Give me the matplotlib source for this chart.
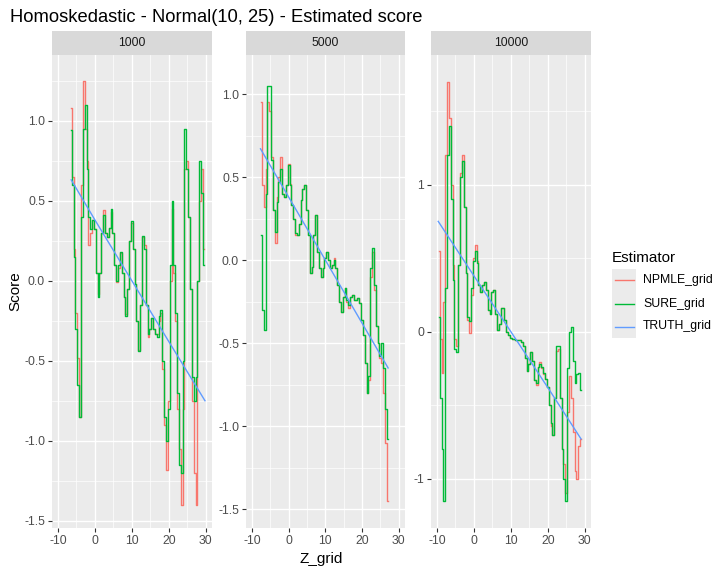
import numpy as np
import matplotlib
matplotlib.use("Agg")
import matplotlib.pyplot as plt
from matplotlib.lines import Line2D
from matplotlib.patches import Rectangle

plt.rcParams['font.family'] = ['Liberation Sans', 'DejaVu Sans']
plt.rcParams['axes.unicode_minus'] = False

W, H = 723, 574

# Estimated score per facet on a 0.5 step Z grid
panels = ['1000', '5000', '10000']
z_start = [-6.5, -7.5, -9.5]

npmle_1000 = [1.08, 0.65, 0.20, -0.20, -0.48, -0.85, 0.60, 1.25, 0.95, 0.75,
              0.22, 0.30, 0.38, 0.32, 0.05, -0.08, 0.05, 0.30, 0.44, 0.30,
              0.27, 0.33, 0.43, 0.30, 0.10, -0.01, 0.08, 0.17, 0.05, -0.10,
              -0.21, -0.05, 0.25, 0.36, 0.20, -0.02, -0.25, -0.43, -0.15, 0.27,
              0.22, -0.15, -0.35, -0.30, -0.23, -0.30, -0.33, -0.33, -0.25, -0.20,
              -0.55, -0.90, -1.18, -0.75, 0.00, 0.45, 0.05, -0.25, -0.80, -1.05,
              -1.40, -0.80, 0.70, 0.75, 0.40, -0.05, -0.75, -1.20, -1.40, 0.00,
              0.50, 0.70, 0.20]
sure_1000 = [0.94, 0.60, 0.15, -0.30, -0.65, -0.85, 0.40, 0.95, 1.10, 0.70,
             0.40, 0.32, 0.38, 0.32, 0.05, -0.10, 0.05, 0.30, 0.41, 0.30,
             0.27, 0.33, 0.45, 0.30, 0.10, 0.00, 0.10, 0.18, 0.05, -0.10,
             -0.22, -0.05, 0.25, 0.37, 0.20, -0.02, -0.25, -0.44, -0.15, 0.28,
             0.20, -0.15, -0.33, -0.30, -0.23, -0.30, -0.33, -0.35, -0.22, -0.18,
             -0.50, -0.85, -1.00, -0.80, 0.10, 0.50, 0.10, -0.20, -0.70, -1.15,
             -1.20, -0.50, 0.95, 0.70, 0.40, -0.05, -0.60, -0.75, -0.60, 0.00,
             0.75, 0.55, 0.10]

npmle_5000 = [0.95, 0.45, 0.32, 0.55, 0.95, 0.90, 0.62, 0.30, 0.10, 0.38,
              0.50, 0.62, 0.40, 0.38, 0.45, 0.58, 0.46, 0.33, 0.25, 0.15,
              0.15, 0.22, 0.36, 0.43, 0.45, 0.30, 0.15, -0.08, -0.04, 0.15,
              0.27, 0.05, -0.05, -0.10, -0.05, 0.01, 0.05, 0.00, -0.05, -0.03,
              0.01, -0.05, -0.15, -0.25, -0.31, -0.22, -0.17, -0.25, -0.29, -0.22,
              -0.21, -0.24, -0.24, -0.23, -0.26, -0.36, -0.45, -0.62, -0.80, -0.72,
              -0.10, 0.05, -0.18, -0.40, -0.50, -0.59, -0.62, -0.80, -1.10, -1.45]
sure_5000 = [0.15, -0.30, -0.42, 0.40, 1.05, 1.05, 0.60, 0.30, 0.17, 0.35,
             0.47, 0.55, 0.40, 0.38, 0.45, 0.57, 0.45, 0.33, 0.25, 0.16,
             0.15, 0.22, 0.36, 0.43, 0.45, 0.30, 0.15, -0.08, -0.04, 0.15,
             0.27, 0.05, -0.05, -0.10, -0.05, 0.01, 0.05, 0.00, -0.05, -0.03,
             0.00, -0.05, -0.15, -0.25, -0.31, -0.22, -0.17, -0.24, -0.27, -0.22,
             -0.21, -0.24, -0.24, -0.23, -0.26, -0.36, -0.45, -0.62, -0.80, -0.70,
             -0.05, 0.07, -0.15, -0.40, -0.50, -0.58, -0.50, -0.65, -0.90, -1.08]

npmle_10000 = [0.55, -0.05, -0.28, 0.20, 1.20, 1.70, 1.45, 1.00, 0.45, -0.05,
               -0.10, 0.45, 1.08, 1.20, 0.85, 0.40, 0.08, -0.01, 0.25, 0.50,
               0.59, 0.48, 0.32, 0.27, 0.32, 0.34, 0.28, 0.15, 0.12, 0.27,
               0.28, 0.12, 0.01, 0.05, 0.16, 0.16, 0.08, 0.00, -0.02, -0.04,
               -0.05, -0.05, -0.06, -0.06, -0.06, -0.07, -0.10, -0.18, -0.27, -0.22,
               -0.14, -0.20, -0.33, -0.36, -0.24, -0.21, -0.25, -0.29, -0.32, -0.38,
               -0.50, -0.64, -0.70, -0.45, -0.13, -0.12, -0.45, -0.80, -0.90, -1.10,
               -0.55, -0.30, -0.45, -0.68, -0.95, -1.00, -0.78, -0.73]
sure_10000 = [0.10, -0.45, -0.80, -1.15, 0.30, 1.20, 1.40, 0.90, 0.35, -0.12,
              -0.14, 0.45, 1.05, 1.16, 0.85, 0.40, 0.10, 0.07, 0.30, 0.48,
              0.55, 0.47, 0.32, 0.27, 0.32, 0.34, 0.28, 0.15, 0.12, 0.27,
              0.28, 0.12, 0.01, 0.05, 0.16, 0.16, 0.08, 0.00, -0.02, -0.04,
              -0.05, -0.05, -0.06, -0.06, -0.06, -0.07, -0.10, -0.18, -0.27, -0.22,
              -0.14, -0.20, -0.33, -0.35, -0.24, -0.22, -0.24, -0.28, -0.32, -0.38,
              -0.50, -0.62, -0.70, -0.45, -0.10, -0.10, -0.45, -0.80, -1.00, -1.15,
              -0.25, 0.00, 0.03, -0.20, -0.35, -0.29, -0.28, -0.40]

# true score, read at a few points
truth_z = [[-6.4, 0, 10, 20, 29.8], [-7.65, 0, 10, 20, 27.1], [-9.64, 0, 10, 20, 29.0]]
truth_v = [[0.63, 0.38, 0.0, -0.38, -0.75], [0.67, 0.38, 0.0, -0.38, -0.65],
           [0.75, 0.38, 0.0, -0.38, -0.73]]

npmle = [npmle_1000, npmle_5000, npmle_10000]
sure = [sure_1000, sure_5000, sure_10000]

ylims = [(-1.545, 1.41), (-1.614, 1.235), (-1.336, 1.882)]
yticks = [[-1.5, -1.0, -0.5, 0.0, 0.5, 1.0], [-1.5, -1.0, -0.5, 0.0, 0.5, 1.0], [-1, 0, 1]]
yminor = [[-1.25, -0.75, -0.25, 0.25, 0.75, 1.25], [-1.25, -0.75, -0.25, 0.25, 0.75],
          [-0.5, 0.5, 1.5]]
ylabfmt = ['%.1f', '%.1f', '%d']
xticks = [-10, 0, 10, 20, 30]
xminor = [-5, 5, 15, 25]

colors = {'NPMLE_grid': '#F8766D', 'SURE_grid': '#00BA38', 'TRUTH_grid': '#619CFF'}

fig = plt.figure(figsize=(W / 100, H / 100), dpi=100)

def fx(px):
    return px / W

def fy(py):
    return 1 - py / H

lefts = [52, 246, 431]
widths = [160, 159, 160]
top, bottom = 55, 528

for i, name in enumerate(panels):
    ax = fig.add_axes([fx(lefts[i]), fy(bottom), widths[i] / W, (bottom - top) / H])
    ax.set_facecolor('#EBEBEB')
    for s in ax.spines.values():
        s.set_visible(False)
    z = z_start[i] + 0.5 * np.arange(len(npmle[i]))
    ax.step(z, npmle[i], where='mid', color=colors['NPMLE_grid'], lw=1.0)
    ax.step(z, sure[i], where='mid', color=colors['SURE_grid'], lw=1.0)
    ax.plot(truth_z[i], truth_v[i], color=colors['TRUTH_grid'], lw=1.0)

    ax.set_xlim(-11.6, 31.7)
    ax.set_ylim(*ylims[i])
    ax.set_xticks(xticks)
    ax.set_xticklabels([str(t) for t in xticks])
    ax.set_xticks(xminor, minor=True)
    ax.set_yticks(yticks[i])
    ax.set_yticklabels([ylabfmt[i] % t for t in yticks[i]])
    ax.set_yticks(yminor[i], minor=True)
    ax.grid(which='major', color='white', lw=1.0)
    ax.grid(which='minor', color='white', lw=0.5)
    ax.set_axisbelow(True)
    ax.tick_params(which='major', length=2.75, width=0.8, color='#333333',
                   labelcolor='#4D4D4D', labelsize=8.8, pad=2.2)
    ax.tick_params(which='minor', length=0)

    sx = fig.add_axes([fx(lefts[i]), fy(top), widths[i] / W, 24 / H])
    sx.set_facecolor('#D9D9D9')
    sx.set_xticks([])
    sx.set_yticks([])
    for s in sx.spines.values():
        s.set_visible(False)
    sx.text(0.5, 0.5, name, ha='center', va='center', fontsize=8.8, color='#1A1A1A',
            transform=sx.transAxes)

fig.text(fx(10), fy(22), 'Homoskedastic - Normal(10, 25) - Estimated score',
         fontsize=13.2, ha='left', va='baseline')
fig.text(fx(15), fy(291.5), 'Score', rotation=90, fontsize=11, ha='center', va='center')
fig.text(fx(321.5), fy(559), 'Z_grid', fontsize=11, ha='center', va='center')

# legend
fig.text(fx(612), fy(261.5), 'Estimator', fontsize=11, ha='left', va='baseline')
key_centers = [280.5, 303.5, 326.5]
for name, cy in zip(colors, key_centers):
    fig.add_artist(Rectangle((fx(612), fy(cy + 11.5)), 24 / W, 23 / H,
                             transform=fig.transFigure, facecolor='#EBEBEB',
                             edgecolor='none'))
    fig.add_artist(Line2D([fx(614.5), fx(633.5)], [fy(cy), fy(cy)],
                          transform=fig.transFigure, color=colors[name], lw=1.0))
    fig.text(fx(643), fy(cy), name, fontsize=8.8, ha='left', va='center')

fig.savefig('out.png', dpi=100)
